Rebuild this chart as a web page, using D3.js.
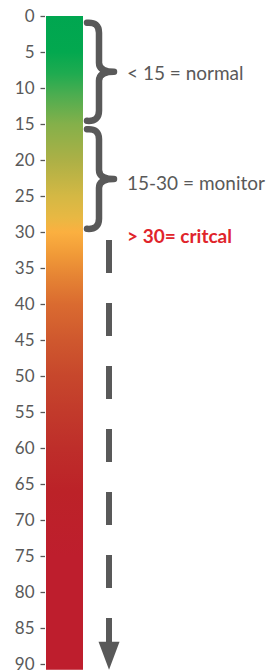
<!DOCTYPE html>
<html>
<head>
<meta charset="utf-8">
<script src="https://cdn.jsdelivr.net/npm/d3@7"></script>
<style>
    body { margin: 0; background: #fff; }
    svg { display: block; }
    .tick text { font-family: Lato, "Open Sans", sans-serif; font-size: 17px; fill: #595959; }
    .tick line { stroke: #595959; stroke-width: 1.3; }
    .label { font-family: Lato, "Open Sans", sans-serif; font-size: 19px; fill: #595959; }
    .critical { font-weight: bold; fill: #e0242b; font-size: 19px; }
</style>
</head>
<body>
<svg id="chart" width="272" height="672"></svg>
<script>
"use strict";

// scale values
var ticks = [0, 5, 10, 15, 20, 25, 30, 35, 40, 45, 50, 55, 60, 65, 70, 75, 80, 85, 90];
var bar_range = [0, 90.8];

// gradient stops along the bar (value, colour)
var stop_values = [0, 5, 8, 11, 15, 20, 25, 28, 30, 33, 36, 40, 45, 50, 55, 60, 66, 75, 90.8];
var stop_colors = ["#00a650", "#03a84f", "#1fab50", "#4dad50", "#84b04a", "#acb046", "#d4b844",
                   "#e8b843", "#fbb040", "#f19b38", "#e68534", "#da6b30", "#cf582e", "#c7472c",
                   "#c23a2b", "#be2e2a", "#bc2228", "#be1e2d", "#be1e2d"];

// annotation ranges
var zone_names = ["< 15 = normal", "15-30 = monitor"];
var zone_from = [0.8, 15.6];
var zone_to = [14.7, 29.7];
var zone_label_at = [8.0, 23.3];
var critical_label = "> 30= critcal";
var critical_at = 30.6;
var arrow_from = 31.1;
var arrow_to = 90.8;

var svg = d3.select("#chart");

var y = d3.scaleLinear().domain([0, 90]).range([16, 664]);
var bar_x0 = 46, bar_x1 = 83;

// gradient
var defs = svg.append("defs");
var grad = defs.append("linearGradient")
    .attr("id", "heat")
    .attr("gradientUnits", "userSpaceOnUse")
    .attr("x1", 0).attr("x2", 0)
    .attr("y1", y(bar_range[0])).attr("y2", y(bar_range[1]));

var span = bar_range[1] - bar_range[0];
grad.selectAll("stop")
    .data(stop_values)
    .enter().append("stop")
    .attr("offset", function (d) { return (d - bar_range[0]) / span; })
    .attr("stop-color", function (d, i) { return stop_colors[i]; });

// bar
svg.append("rect")
    .attr("x", bar_x0)
    .attr("y", y(bar_range[0]))
    .attr("width", bar_x1 - bar_x0)
    .attr("height", y(bar_range[1]) - y(bar_range[0]))
    .attr("fill", "url(#heat)");

// axis
var axis = svg.append("g")
    .attr("transform", "translate(45,0)")
    .call(d3.axisLeft(y).tickValues(ticks).tickSize(4.5).tickPadding(6));
axis.select(".domain").remove();
axis.selectAll(".tick text").attr("dy", "0.34em");

// braces
function brace(x0, y0, y1, w) {
    var ym = (y0 + y1) / 2, xc = x0 + 12;
    return "M " + x0 + " " + (y0 + 1) +
        " Q " + xc + " " + y0 + " " + xc + " " + (y0 + 11) +
        " L " + xc + " " + (ym - 9) +
        " Q " + xc + " " + ym + " " + (x0 + w) + " " + ym +
        " Q " + xc + " " + ym + " " + xc + " " + (ym + 9) +
        " L " + xc + " " + (y1 - 11) +
        " Q " + xc + " " + y1 + " " + x0 + " " + (y1 - 1);
}

var zones = svg.selectAll("g.zone")
    .data(zone_names)
    .enter().append("g")
    .attr("class", "zone");

zones.append("path")
    .attr("d", function (d, i) { return brace(87, y(zone_from[i]), y(zone_to[i]), 27); })
    .attr("fill", "none")
    .attr("stroke", "#595959")
    .attr("stroke-width", 6.5)
    .attr("stroke-linecap", "round")
    .attr("stroke-linejoin", "round");

zones.append("text")
    .attr("class", "label")
    .attr("x", 127)
    .attr("y", function (d, i) { return y(zone_label_at[i]); })
    .attr("dy", "0.35em")
    .text(function (d) { return d; });

svg.append("text")
    .attr("class", "label critical")
    .attr("x", 127)
    .attr("y", y(critical_at))
    .attr("dy", "0.35em")
    .text(critical_label);

// dashed arrow
var ax = 109;
var head = 28;
svg.append("line")
    .attr("x1", ax).attr("x2", ax)
    .attr("y1", y(arrow_from))
    .attr("y2", y(arrow_to) - head + 2)
    .attr("stroke", "#595959")
    .attr("stroke-width", 6)
    .attr("stroke-dasharray", "33 30");

svg.append("path")
    .attr("d", "M " + (ax - 10.5) + " " + (y(arrow_to) - head) +
        " L " + (ax + 10.5) + " " + (y(arrow_to) - head) +
        " L " + ax + " " + y(arrow_to) + " Z")
    .attr("fill", "#595959");
</script>
</body>
</html>
